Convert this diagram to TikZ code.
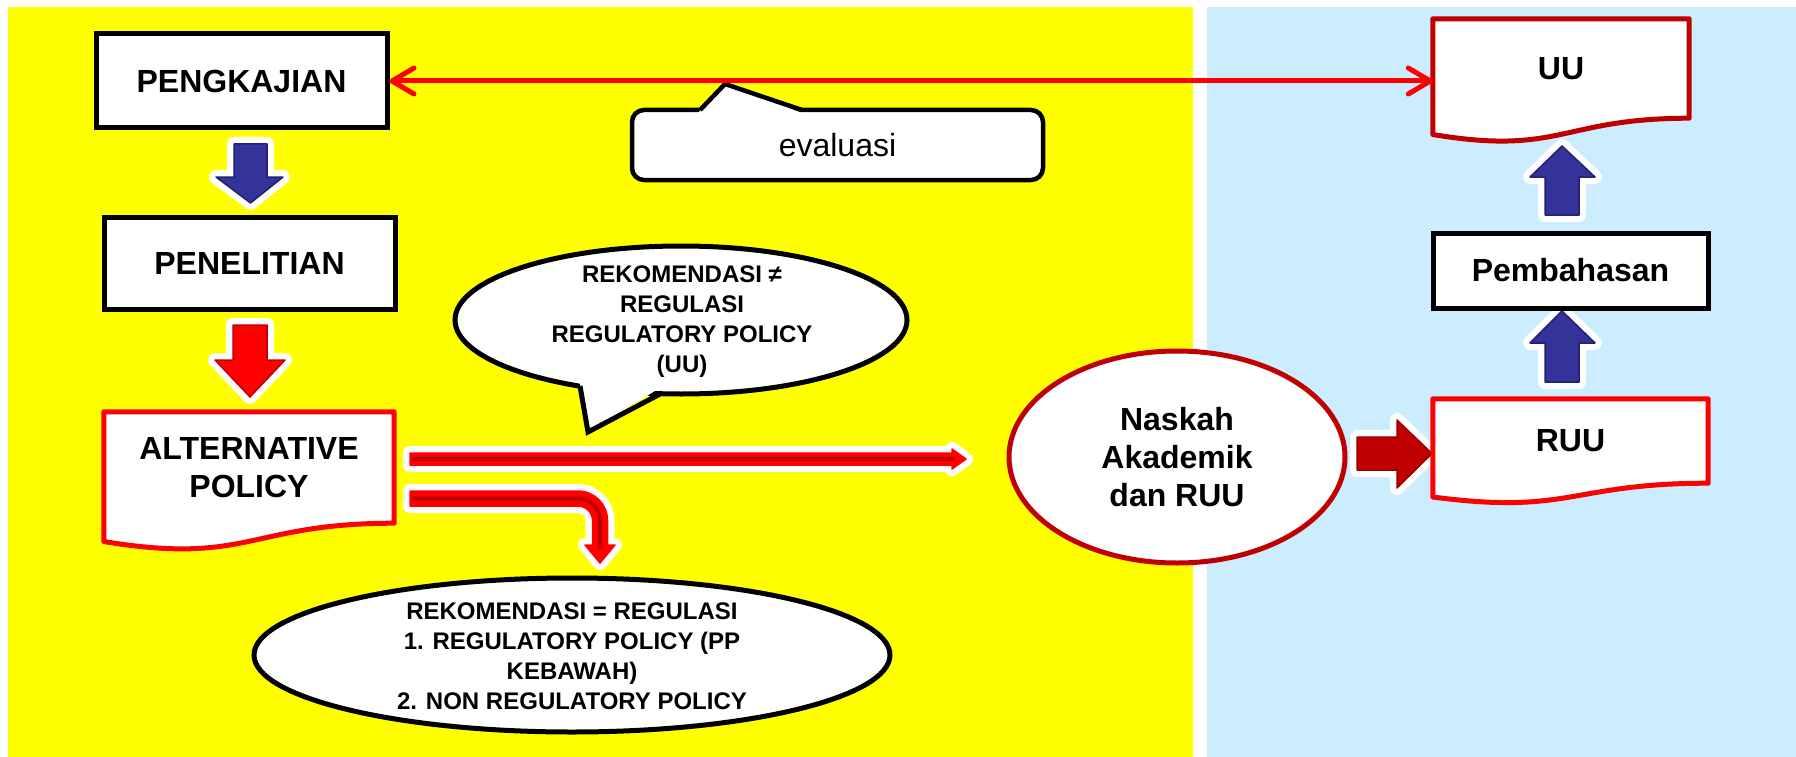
\documentclass[tikz,border=0pt]{standalone}
\usepackage{fontspec}
\setmainfont{Liberation Sans}
\usetikzlibrary{shapes.geometric,arrows.meta,calc}
\definecolor{bgyellow}{HTML}{FFFF00}
\definecolor{bgblue}{HTML}{CCECFF}
\definecolor{darkred}{HTML}{C00000}
\definecolor{brightred}{HTML}{FF0000}
\definecolor{navy}{HTML}{333399}
\definecolor{navydark}{HTML}{22226E}
\definecolor{reddeep}{HTML}{990000}
\pgfdeclarelayer{bg}\pgfdeclarelayer{arrowlayer}\pgfdeclarelayer{mid}
\pgfsetlayers{bg,arrowlayer,mid,main}
\newcommand\blockarrow[3]{%
  \draw[glow] #3;
  \fill[#1] #3;
  \draw[#2, line width=1.5pt, line join=round] #3;}
\begin{document}
\begin{tikzpicture}[x=1pt,y=-1pt,
  bigtxt/.style={font=\fontsize{32}{38}\selectfont\bfseries, align=center},
  smalltxt/.style={font=\fontsize{24}{30}\selectfont\bfseries, align=center},
  blackbox/.style={draw=black, line width=5pt, fill=white, rectangle, inner sep=0pt, bigtxt},
  docbox/.style={rectangle, inner sep=0pt, bigtxt},
  docline/.style={line width=5pt, fill=white, line join=round},
  bubble/.style={draw=black, line width=5pt, fill=white, ellipse, inner sep=0pt},
  glow/.style={draw=white, line width=14pt, line join=round}]
\useasboundingbox (0,0) rectangle (1796,757);
\begin{pgfonlayer}{bg}
  \fill[bgyellow] (8,7) rectangle (1193,757);
  \fill[bgblue] (1207,7) rectangle (1796,757);
\end{pgfonlayer}

% boxes
\node[blackbox, minimum width=291pt, minimum height=94pt] (pengkajian) at (241.5,81) {PENGKAJIAN};
\node[blackbox, minimum width=291pt, minimum height=92pt] (penelitian) at (249.5,263.5) {PENELITIAN};
\node[docbox, minimum width=290pt, minimum height=111pt] (alt) at (249,467.5) {ALTERNATIVE\\POLICY};
\node[docbox, minimum width=256pt, minimum height=99pt] (uu) at (1561,68.5) {UU};
\node[blackbox, minimum width=275pt, minimum height=75pt] (pembahasan) at (1570.5,270.5) {Pembahasan};
\node[docbox, minimum width=275pt, minimum height=84pt] (ruu) at (1570.5,441) {RUU};

\begin{pgfonlayer}{mid}
  \draw[docline, draw=brightred] (alt.north west) -- (alt.north east) -- (alt.south east)
    .. controls (alt.south) and ($(alt.south)+(0,42.3)$) .. ($(alt.south west)+(0,18.3)$) -- cycle;
  \draw[docline, draw=darkred] (uu.north west) -- (uu.north east) -- (uu.south east)
    .. controls (uu.south) and ($(uu.south)+(0,37.7)$) .. ($(uu.south west)+(0,16.3)$) -- cycle;
  \draw[docline, draw=brightred] (ruu.north west) -- (ruu.north east) -- (ruu.south east)
    .. controls (ruu.south) and ($(ruu.south)+(0,32)$) .. ($(ruu.south west)+(0,13.8)$) -- cycle;
\end{pgfonlayer}

% ellipses
\node[ellipse, draw=darkred, line width=5pt, fill=white, minimum width=336pt, minimum height=212pt,
      inner sep=0pt, bigtxt] (naskah) at (1177,457) {Naskah\\Akademik\\dan RUU};
\node[bubble, minimum width=452pt, minimum height=148pt] (rek1) at (681,320) {};
\fill[white] (579,378) -- (588,432) -- (663,386) -- cycle;
\draw[line width=5pt, line join=miter] (580,386) -- (588,432) -- (662,393);
\node[smalltxt] (rek1t) at (682,322) {REKOMENDASI ≠\\REGULASI\\REGULATORY POLICY\\(UU)};
\node[bubble, minimum width=636pt, minimum height=154pt] (rek2) at (572,655) {};
\node[smalltxt] (rek2t) at (572,656) {REKOMENDASI = REGULASI\\1. REGULATORY POLICY (PP\\KEBAWAH)\\2. NON REGULATORY POLICY};

% evaluasi callout
\node[draw=black, line width=4.5pt, fill=white, rounded corners=12pt, minimum width=411pt,
      minimum height=70pt, font=\fontsize{32}{38}\selectfont] (eval) at (837.5,145) {evaluasi};
\fill[white] (697,114) -- (725,84) -- (805,114) -- cycle;
\draw[line width=4.5pt, line join=round] (700,110) -- (725,84) -- (802,110);

% evaluation connector
\draw[brightred, line width=5pt,
  {Straight Barb[length=22pt,width=26pt,round]}-{Straight Barb[length=22pt,width=26pt,round]}]
  (pengkajian.east) -- (pengkajian.east -| uu.west);

% block arrows
\begin{pgfonlayer}{arrowlayer}
  \blockarrow{navy}{navydark}{(234,144) -- (267,144) -- (267,177) -- (283,177) -- (250.5,203) -- (216,177) -- (234,177) -- cycle}
  \blockarrow{brightred}{darkred}{(233,325) -- (267,325) -- (267,360) -- (285,360) -- (250,397) -- (215,360) -- (233,360) -- cycle}
  \blockarrow{navy}{navydark}{(1545,215) -- (1579,215) -- (1579,177) -- (1595,177) -- (1562,146) -- (1530,177) -- (1545,177) -- cycle}
  \blockarrow{navy}{navydark}{(1545,382) -- (1579,382) -- (1579,343) -- (1595,343) -- (1562,311) -- (1530,343) -- (1545,343) -- cycle}
  \blockarrow{darkred}{reddeep}{(1357,437) -- (1397,437) -- (1397,420) -- (1432,453.5) -- (1397,488) -- (1397,470) -- (1357,470) -- cycle}
  % long arrow to Naskah
  \blockarrow{brightred}{brightred}{(410,453) -- (952,453) -- (952,449) -- (966,459) -- (952,469) -- (952,465) -- (410,465) -- cycle}
  \draw[darkred, line width=4pt] (412,459) -- (954,459);
  % bent arrow to lower ellipse
  \blockarrow{brightred}{brightred}{(410,491) -- (578,491) arc[start angle=-90,end angle=0,radius=29.5] -- (607.5,545) -- (615,545) -- (600,563) -- (585,545) -- (592.5,545) -- (592.5,520.5) arc[start angle=0,end angle=-90,radius=14.5] -- (410,506) -- cycle}
  \draw[darkred, line width=4pt] (412,498.5) -- (578,498.5) arc[start angle=-90,end angle=0,radius=22] -- (600,548);
\end{pgfonlayer}
\end{tikzpicture}
\end{document}
